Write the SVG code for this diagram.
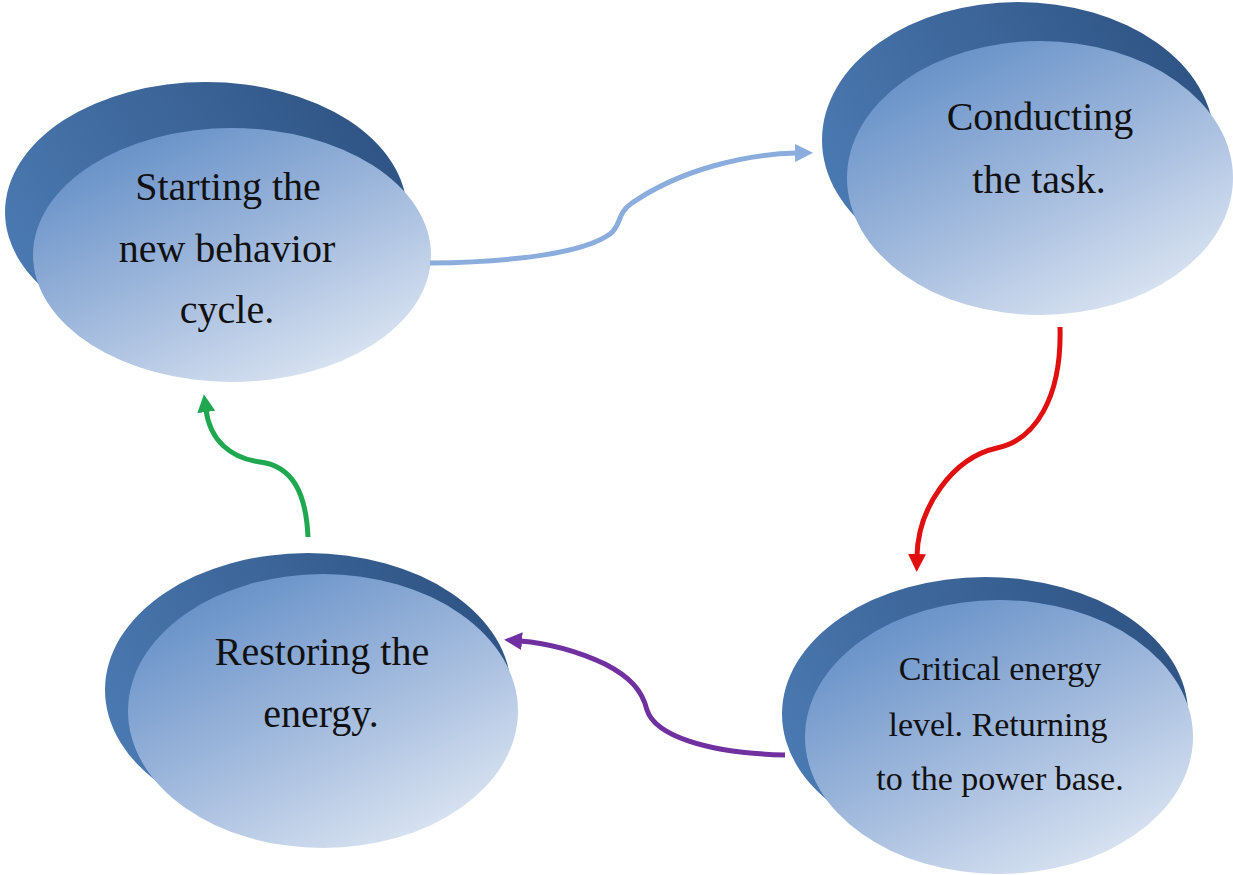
<svg xmlns="http://www.w3.org/2000/svg" width="1233" height="875" viewBox="0 0 1233 875">
  <defs>
    <linearGradient id="gFront" x1="0.15" y1="0" x2="0.85" y2="1">
      <stop offset="0" stop-color="#5e8bc5"/>
      <stop offset="0.5" stop-color="#9fb8dc"/>
      <stop offset="1" stop-color="#e2eaf5"/>
    </linearGradient>
    <linearGradient id="gBack" x1="0" y1="0.6" x2="1" y2="0.2">
      <stop offset="0" stop-color="#4a79b1"/>
      <stop offset="0.6" stop-color="#3a6295"/>
      <stop offset="1" stop-color="#2d5282"/>
    </linearGradient>
    <marker id="mBlue" viewBox="0 0 18 18" refX="2" refY="9" markerWidth="18" markerHeight="18" markerUnits="userSpaceOnUse" orient="auto">
      <path d="M0,0 L18,9 L0,18 z" fill="#8aaddd"/>
    </marker>
    <marker id="mRed" viewBox="0 0 18 18" refX="2" refY="9" markerWidth="18" markerHeight="18" markerUnits="userSpaceOnUse" orient="auto">
      <path d="M0,0 L18,9 L0,18 z" fill="#e01010"/>
    </marker>
    <marker id="mPurple" viewBox="0 0 18 18" refX="2" refY="9" markerWidth="18" markerHeight="18" markerUnits="userSpaceOnUse" orient="auto">
      <path d="M0,0 L18,9 L0,18 z" fill="#7030a0"/>
    </marker>
    <marker id="mGreen" viewBox="0 0 18 18" refX="2" refY="9" markerWidth="18" markerHeight="18" markerUnits="userSpaceOnUse" orient="auto">
      <path d="M0,0 L18,9 L0,18 z" fill="#1fa84f"/>
    </marker>
  </defs>
  <style>
    .back { fill: url(#gBack); }
    .front { fill: url(#gFront); }
    .lbl { font-family: "Liberation Serif", "Times New Roman", serif; fill: #111; text-anchor: middle; }
    .conn { fill: none; stroke-width: 5; stroke-linecap: butt; }
  </style>
  <rect width="1233" height="875" fill="#ffffff"/>

  <g id="node-start">
    <ellipse class="back" cx="206" cy="212" rx="201" ry="130"/>
    <ellipse class="front" cx="232" cy="255" rx="199" ry="127"/>
    <text class="lbl" font-size="40" x="228" y="200">Starting the</text>
    <text class="lbl" font-size="40" x="227" y="262">new behavior</text>
    <text class="lbl" font-size="40" x="227" y="323">cycle.</text>
  </g>

  <g id="node-conduct">
    <ellipse class="back" cx="1018" cy="140" rx="196" ry="138"/>
    <ellipse class="front" cx="1040" cy="178" rx="193" ry="137"/>
    <text class="lbl" font-size="40" x="1040" y="130">Conducting</text>
    <text class="lbl" font-size="40" x="1039" y="193">the task.</text>
  </g>

  <g id="node-critical">
    <ellipse class="back" cx="985" cy="714" rx="203" ry="137"/>
    <ellipse class="front" cx="999" cy="737" rx="194" ry="137"/>
    <text class="lbl" font-size="34" x="1000" y="680">Critical energy</text>
    <text class="lbl" font-size="34" x="998" y="736">level. Returning</text>
    <text class="lbl" font-size="34" x="1000" y="790">to the power base.</text>
  </g>

  <g id="node-restore">
    <ellipse class="back" cx="308" cy="690" rx="203" ry="137"/>
    <ellipse class="front" cx="323" cy="711" rx="195" ry="137"/>
    <text class="lbl" font-size="40" x="322" y="665">Restoring the</text>
    <text class="lbl" font-size="40" x="321" y="727">energy.</text>
  </g>

  <g id="connectors">
    <path class="conn" stroke="#8aaddd" marker-end="url(#mBlue)" d="M430,263 C520,262 585,252 610,234 C622,225 616,214 632,203 C680,170 745,154 797,153"/>
    <path class="conn" stroke="#e01010" marker-end="url(#mRed)" d="M1060,327 C1062,398 1035,440 997,448 C952,458 918,508 917,556"/>
    <path class="conn" stroke="#7030a0" marker-end="url(#mPurple)" d="M785,755 C705,753 655,735 647,710 C642,690 630,677 605,664 C575,650 545,643 520,641"/>
    <path class="conn" stroke="#1fa84f" marker-end="url(#mGreen)" d="M308,537 C306,492 292,466 260,462 C230,458 210,440 206,410"/>
  </g>
</svg>
